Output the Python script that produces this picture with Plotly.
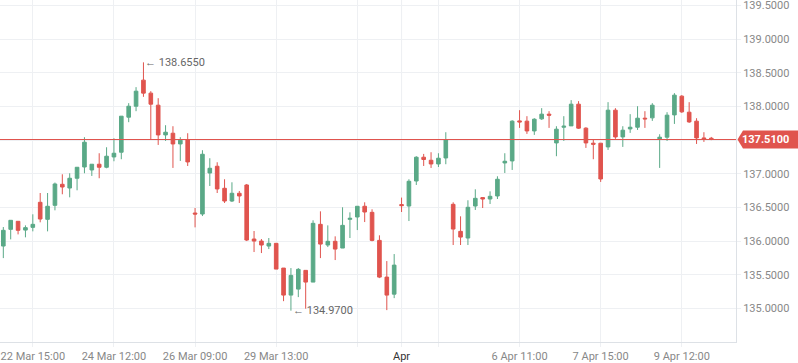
import plotly.graph_objects as go

# OHLC values, 4h candles (index 0..96)
opens = [135.929,136.177,136.296,136.166,136.206,136.578,136.325,136.533,136.845,136.790,
         136.935,137.102,137.058,137.143,137.098,137.251,137.321,137.841,138.004,138.391,
         138.198,138.019,137.578,137.603,137.444,137.510,136.419,136.404,137.013,137.113,
         136.786,136.597,136.712,136.835,136.033,136.003,135.929,135.969,135.602,135.201,
         135.290,135.568,135.394,136.251,135.944,135.999,135.899,136.325,136.360,136.519,
         136.429,136.013,135.468,135.215,136.544,136.523,136.894,137.247,137.202,137.147,
         137.236,136.548,136.147,136.048,136.523,136.648,136.627,136.672,137.162,137.192,
         137.786,137.782,137.637,137.816,137.886,137.459,137.692,137.712,138.034,137.678,
         137.455,137.455,137.400,137.945,137.548,137.667,137.692,137.826,137.831,137.519,
         137.544,137.875,138.153,137.915,137.782,137.533,137.529]
highs = [136.211,136.311,136.296,136.236,136.400,136.716,136.716,136.871,136.994,137.009,
         137.098,137.544,137.143,137.306,137.395,137.529,137.856,138.049,138.287,138.655,
         138.227,138.123,137.722,137.707,137.544,137.603,136.493,137.351,137.232,137.172,
         136.920,136.875,136.746,136.850,136.152,136.033,136.048,135.969,135.602,135.602,
         135.602,135.568,136.311,136.444,136.236,136.073,136.504,136.429,136.519,136.578,
         136.474,136.088,135.706,135.810,136.648,136.920,137.262,137.296,137.321,137.306,
         137.618,136.578,136.370,136.608,136.771,136.648,136.741,136.964,137.306,137.796,
         137.945,137.856,137.826,137.975,137.930,137.707,137.856,138.094,138.079,137.692,
         137.514,137.455,138.064,137.975,137.707,137.886,138.004,137.930,138.049,137.588,
         137.915,138.198,138.168,138.064,137.826,137.618,137.548]
lows = [135.750,136.028,136.102,136.058,136.147,136.281,136.147,136.459,136.697,136.652,
        136.756,137.009,136.969,136.935,137.083,137.187,137.217,137.767,137.930,138.143,
        137.510,137.429,137.489,137.088,137.192,137.117,136.206,136.374,136.820,136.716,
        136.568,136.582,136.568,136.003,135.840,135.825,135.884,135.587,135.111,134.970,
        135.171,134.999,135.394,135.750,135.914,135.721,135.899,136.048,136.166,136.285,
        135.999,135.453,134.978,135.156,136.434,136.300,136.835,137.117,137.088,137.102,
        137.143,135.944,135.944,135.944,136.464,136.493,136.553,136.627,137.013,137.058,
        137.682,137.593,137.578,137.801,137.682,137.262,137.489,137.712,137.667,137.385,
        137.217,136.880,137.355,137.519,137.400,137.608,137.652,137.682,137.786,137.088,
        137.489,137.741,137.905,137.756,137.444,137.474,137.500]
closes = [136.162,136.311,136.162,136.202,136.251,136.330,136.519,136.850,136.805,136.935,
          137.098,137.470,137.143,137.098,137.262,137.306,137.856,138.004,138.227,138.198,
          138.034,137.578,137.618,137.444,137.499,137.177,136.404,137.291,137.083,136.776,
          136.597,136.712,136.672,136.018,136.003,135.944,135.969,135.587,135.201,135.493,
          135.583,135.394,136.266,135.958,135.999,135.884,136.236,136.340,136.519,136.434,
          136.013,135.468,135.201,135.646,136.529,136.890,137.247,137.213,137.147,137.232,
          137.510,136.181,136.062,136.504,136.637,136.627,136.667,136.920,137.187,137.782,
          137.771,137.637,137.811,137.886,137.871,137.663,137.707,138.034,137.678,137.459,
          137.440,136.924,137.945,137.548,137.648,137.692,137.826,137.816,138.019,137.544,
          137.871,138.168,137.920,137.771,137.533,137.519,137.510]

tick_index = [4, 15, 26, 37, 48, 54, 59, 70, 81, 92]
tick_labels = ["22 Mar 15:00", "24 Mar 12:00", "26 Mar 09:00", "29 Mar 13:00", "",
               "<span style='color:#333333'>Apr</span>", "", "6 Apr 11:00", "7 Apr 15:00", "9 Apr 12:00"]
month_index = 54

high_idx, high_val = 19, 138.655
low_idx, low_val = 39, 134.970
last_price = 137.51

y_min, y_max = 134.505, 139.58

GREEN = "#5aa987"
RED = "#e0544e"
GRID = "#eef0f3"
AXIS = "#dde1e6"
FONT = "Roboto"

idx = list(range(len(opens)))

fig = go.Figure()
fig.add_trace(go.Candlestick(
    x=idx, open=opens, high=highs, low=lows, close=closes,
    increasing=dict(line=dict(color=GREEN, width=1), fillcolor=GREEN),
    decreasing=dict(line=dict(color=RED, width=1), fillcolor=RED),
    hoverinfo="skip",
))

shapes = [
    dict(type="line", xref="x", yref="y", x0=month_index, x1=month_index, y0=y_min, y1=y_max,
         line=dict(color="#e2e5e9", width=1), layer="below"),
    dict(type="line", xref="paper", yref="y", x0=0, x1=1, y0=last_price, y1=last_price,
         line=dict(color=RED, width=1), layer="above"),
]

# price tag on the right axis
def yp(v):
    return (v - y_min) / (y_max - y_min)

px_w = 736.0
top = yp(last_price) + 9.0 / 342
bot = yp(last_price) - 9.0 / 342
mid = yp(last_price)
x_tip = 737.5 / px_w
x_l = 743.0 / px_w
x_r = 798.0 / px_w
shapes.append(dict(
    type="path", xref="paper", yref="paper",
    path=f"M {x_tip} {mid} L {x_l} {top} L {x_r} {top} L {x_r} {bot} L {x_l} {bot} Z",
    fillcolor=RED, line=dict(color=RED, width=0), layer="above"))

annotations = [
    dict(x=(743 + 789) / 2 / px_w, y=last_price, xref="paper", yref="y",
         text="<b>137.5100</b>", showarrow=False, font=dict(family=FONT, size=11, color="white"),
         xanchor="center", yanchor="middle"),
    dict(x=high_idx, y=high_val, xref="x", yref="y", text="← %.4f" % high_val, showarrow=False,
         xanchor="left", yanchor="middle", xshift=0, font=dict(family=FONT, size=11, color="#666666")),
    dict(x=low_idx, y=low_val, xref="x", yref="y", text="← %.4f" % low_val, showarrow=False,
         xanchor="left", yanchor="middle", xshift=0, font=dict(family=FONT, size=11, color="#666666")),
]

fig.update_layout(
    width=798, height=363,
    margin=dict(l=0, r=62, t=0, b=21),
    paper_bgcolor="white", plot_bgcolor="white",
    showlegend=False,
    font=dict(family=FONT, size=11, color="#888888"),
    shapes=shapes, annotations=annotations,
    xaxis=dict(
        range=[-0.45, 99.35], rangeslider=dict(visible=False),
        tickmode="array", tickvals=tick_index, ticktext=tick_labels,
        showgrid=True, gridcolor=GRID, gridwidth=1,
        showline=True, linecolor=AXIS, linewidth=1,
        ticks="outside", ticklen=4, tickcolor=GRID,
        tickfont=dict(family=FONT, size=11, color="#888888"),
        zeroline=False, fixedrange=True,
    ),
    yaxis=dict(
        side="right", range=[y_min, y_max], dtick=0.5, tick0=135, tickformat=".4f",
        showgrid=True, gridcolor=GRID, gridwidth=1,
        showline=True, linecolor=AXIS, linewidth=1,
        ticks="outside", ticklen=4, tickcolor=GRID, ticklabeloverflow="allow",
        tickfont=dict(family=FONT, size=11, color="#888888"),
        zeroline=False, fixedrange=True,
    ),
)

fig.write_html(
    "out.html",
    config={"displayModeBar": False},
    post_script="document.body.style.margin='0px';document.body.style.padding='0px';",
)
